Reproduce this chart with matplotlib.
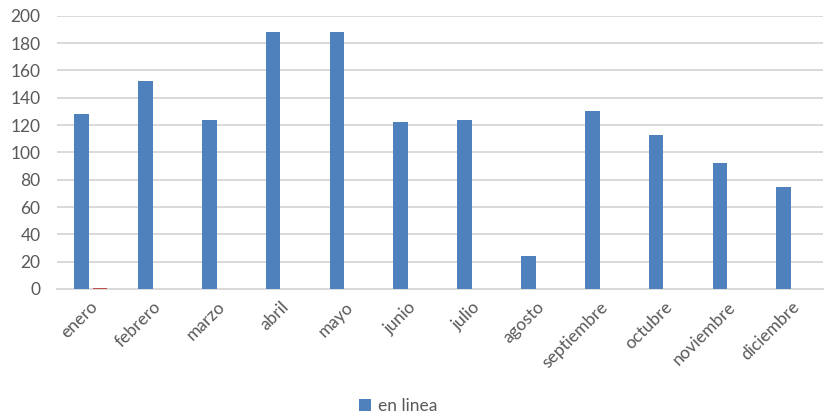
import numpy as np
import matplotlib.pyplot as plt

plt.rcParams['font.family'] = ['Lato', 'DejaVu Sans']

meses = ["enero", "febrero", "marzo", "abril", "mayo", "junio", "julio",
         "agosto", "septiembre", "octubre", "noviembre", "diciembre"]
en_linea = [128, 152, 124, 188, 188, 122, 124, 24, 130, 113, 92, 75]
otro = [1, 0, 0, 0, 0, 0, 0, 0, 0, 0, 0, 0]

azul = "#4f81bd"
rojo = "#c0504d"
gris = "#595959"

fig = plt.figure(figsize=(8.3, 4.17), dpi=100)
ax = fig.add_axes([0.069, 0.307, 0.923, 0.655])

x = np.arange(len(meses))
ancho = 0.23
ax.bar(x - 0.12, en_linea, width=ancho, color=azul, label="en linea", zorder=3)
ax.bar(x + 0.17, otro, width=ancho, color=rojo, zorder=3)

ax.set_xlim(-0.5, len(meses) - 0.5)
ax.set_ylim(0, 200)
ax.set_yticks(range(0, 201, 20))
ax.set_xticks(x)
ax.set_xticklabels(meses, rotation=45, ha="right", rotation_mode="anchor")

ax.grid(axis="y", color="#d9d9d9", linewidth=1.4, zorder=0)
for lado in ["top", "right", "left"]:
    ax.spines[lado].set_visible(False)
ax.spines["bottom"].set_color("#d9d9d9")
ax.spines["bottom"].set_linewidth(1.4)
ax.tick_params(axis="both", length=0, labelsize=12.5, labelcolor=gris)
ax.tick_params(axis="x", pad=7)
ax.tick_params(axis="y", pad=12)

handles, labels = ax.get_legend_handles_labels()
fig.legend(handles, labels, loc="lower center", bbox_to_anchor=(0.48, -0.03),
           frameon=False, fontsize=12.5, labelcolor=gris,
           handlelength=0.7, handleheight=0.7, handletextpad=0.4)

fig.savefig("out.png", dpi=100)
